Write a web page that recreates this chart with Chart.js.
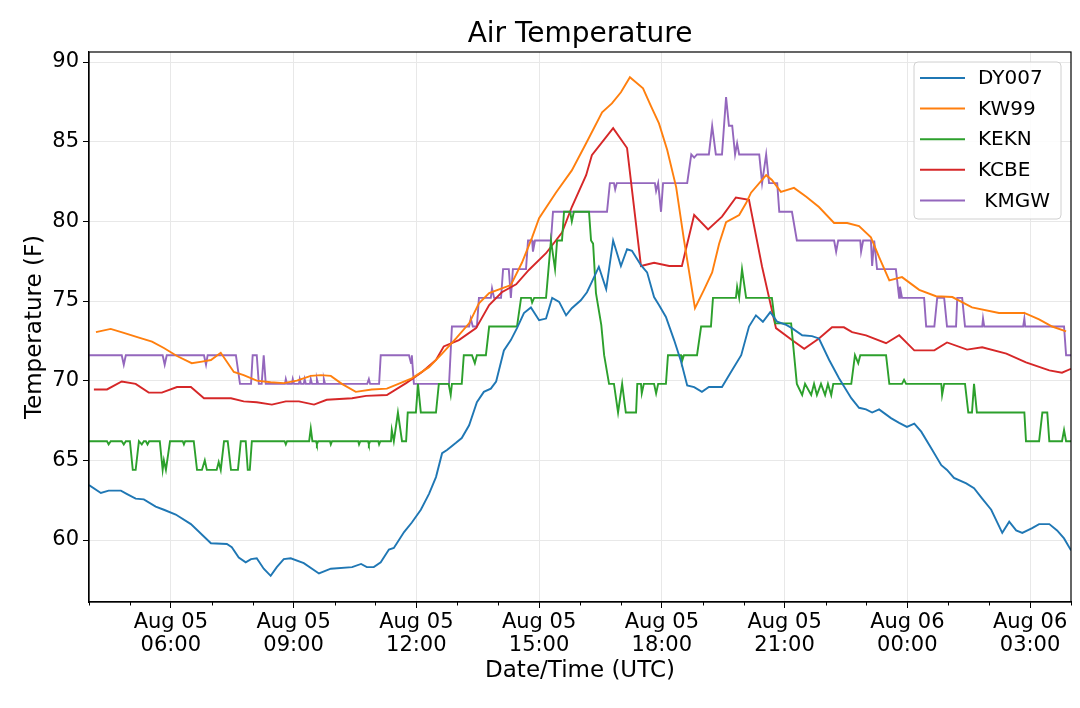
<!DOCTYPE html>
<html>
<head>
<meta charset="utf-8">
<script src="https://cdn.jsdelivr.net/npm/chart.js@4.4.1/dist/chart.umd.min.js"></script>
<style>
  html, body { margin: 0; padding: 0; background: #ffffff; }
  #wrap { width: 1080px; height: 708px; position: relative; }
</style>
</head>
<body>
<div id="wrap"><canvas id="c" width="1080" height="708"></canvas></div>
<script>
// ---- DATA (hours since Aug 05 00:00 UTC, temperature in F) ----
const chartTitle = 'Air Temperature';
const xTitle = 'Date/Time (UTC)';
const yTitle = 'Temperature (F)';
const seriesNames = ['DY007', 'KW99', 'KEKN', 'KCBE', ' KMGW'];
const seriesColors = ['#1f77b4', '#ff7f0e', '#2ca02c', '#d62728', '#9467bd'];
const xMin = 4.0, xMax = 28.0;
const yMin = 56.11, yMax = 90.63;
const majorHours = [6, 9, 12, 15, 18, 21, 24, 27];
const yTickValues = [60, 65, 70, 75, 80, 85, 90];

const DY007 = [[4.0,63.45],[4.29,62.95],[4.48,63.1],[4.78,63.1],[4.92,62.9],[5.14,62.6],[5.34,62.55],[5.63,62.1],[5.83,61.9],[6.12,61.6],[6.49,61.0],[6.98,59.8],[7.37,59.75],[7.49,59.55],[7.66,58.9],[7.83,58.6],[7.96,58.8],[8.10,58.85],[8.27,58.2],[8.44,57.75],[8.59,58.3],[8.76,58.8],[8.93,58.85],[9.25,58.55],[9.62,57.9],[9.91,58.2],[10.43,58.3],[10.65,58.5],[10.79,58.3],[10.96,58.3],[11.13,58.6],[11.33,59.4],[11.45,59.5],[11.70,60.5],[11.89,61.1],[12.11,61.9],[12.31,62.9],[12.48,63.95],[12.63,65.45],[12.75,65.65],[12.97,66.1],[13.11,66.4],[13.29,67.2],[13.48,68.65],[13.65,69.3],[13.82,69.5],[13.95,69.95],[14.14,71.9],[14.31,72.55],[14.46,73.3],[14.63,74.25],[14.80,74.6],[15.00,73.8],[15.17,73.9],[15.32,75.2],[15.49,74.95],[15.66,74.1],[15.80,74.55],[16.02,75.05],[16.17,75.55],[16.29,76.2],[16.46,77.15],[16.64,75.75],[16.81,78.8],[17.00,77.2],[17.15,78.25],[17.27,78.15],[17.49,77.25],[17.64,76.8],[17.81,75.25],[17.93,74.75],[18.10,74.0],[18.30,72.55],[18.47,71.2],[18.62,69.7],[18.79,69.6],[18.98,69.3],[19.15,69.6],[19.47,69.6],[19.69,70.55],[19.94,71.6],[20.13,73.4],[20.30,74.1],[20.47,73.7],[20.65,74.3],[20.82,73.7],[21.04,73.5],[21.18,73.3],[21.43,72.85],[21.67,72.8],[21.84,72.65],[22.09,71.3],[22.33,70.15],[22.63,68.9],[22.82,68.3],[22.99,68.2],[23.14,68.0],[23.31,68.2],[23.60,67.65],[23.80,67.35],[23.99,67.1],[24.17,67.3],[24.34,66.8],[24.61,65.65],[24.83,64.7],[24.97,64.4],[25.14,63.9],[25.44,63.55],[25.63,63.25],[25.83,62.6],[26.05,61.9],[26.32,60.45],[26.49,61.15],[26.66,60.6],[26.81,60.45],[27.05,60.75],[27.22,61.0],[27.47,61.0],[27.66,60.6],[27.83,60.1],[28.0,59.35]];

const KW99 = [[4.17,73.05],[4.53,73.25],[4.85,73.0],[5.22,72.7],[5.54,72.45],[5.83,72.05],[6.15,71.55],[6.51,71.1],[6.76,71.2],[6.98,71.3],[7.22,71.75],[7.54,70.55],[7.78,70.35],[8.10,70.0],[8.44,69.9],[8.76,69.85],[9.08,70.0],[9.42,70.3],[9.67,70.35],[9.91,70.3],[10.18,69.8],[10.52,69.3],[10.91,69.45],[11.28,69.5],[11.89,70.15],[12.31,70.85],[12.63,71.7],[12.97,72.65],[13.29,73.6],[13.53,74.85],[13.78,75.5],[14.09,75.8],[14.31,76.0],[14.58,77.4],[14.83,79.0],[15.00,80.2],[15.41,81.8],[15.80,83.2],[16.15,84.9],[16.54,86.85],[16.78,87.4],[17.00,88.1],[17.22,89.05],[17.54,88.35],[17.74,87.2],[17.93,86.15],[18.13,84.5],[18.35,82.15],[18.54,78.85],[18.81,74.55],[19.03,75.7],[19.23,76.8],[19.40,78.6],[19.57,79.95],[19.89,80.4],[20.06,81.15],[20.18,81.8],[20.55,82.9],[20.69,82.6],[20.91,81.85],[21.23,82.1],[21.53,81.55],[21.84,80.9],[22.21,79.9],[22.53,79.9],[22.82,79.7],[23.11,79.0],[23.31,77.75],[23.56,76.3],[23.87,76.5],[24.29,75.7],[24.70,75.3],[25.10,75.25],[25.58,74.6],[26.24,74.25],[26.86,74.25],[27.22,73.85],[27.54,73.4],[27.88,73.1]];

const KEKN = [[4.0,66.2],[4.44,66.2],[4.48,66.0],[4.53,66.2],[4.80,66.2],[4.85,66.0],[4.90,66.2],[5.0,66.2],[5.07,64.4],[5.14,64.4],[5.22,66.2],[5.29,66.0],[5.34,66.2],[5.39,66.2],[5.43,66.0],[5.47,66.2],[5.73,66.2],[5.80,64.4],[5.83,65.0],[5.88,64.4],[5.98,66.2],[6.29,66.2],[6.32,66.0],[6.35,66.2],[6.56,66.2],[6.64,64.4],[6.76,64.4],[6.83,65.0],[6.88,64.4],[7.12,64.4],[7.17,64.9],[7.22,64.4],[7.30,66.2],[7.39,66.2],[7.47,64.4],[7.64,64.4],[7.71,66.2],[7.83,66.2],[7.88,64.4],[7.93,64.4],[7.98,66.2],[8.78,66.2],[8.81,66.0],[8.84,66.2],[9.38,66.2],[9.42,67.0],[9.46,66.2],[9.55,66.2],[9.57,66.0],[9.60,66.2],[9.89,66.2],[9.91,66.0],[9.94,66.2],[10.58,66.2],[10.60,66.0],[10.63,66.2],[10.82,66.2],[10.84,66.0],[10.87,66.2],[11.07,66.2],[11.09,66.0],[11.12,66.2],[11.38,66.2],[11.40,66.9],[11.45,66.2],[11.55,68.0],[11.65,66.2],[11.75,66.2],[11.79,68.0],[11.99,68.0],[12.04,69.8],[12.11,68.0],[12.48,68.0],[12.55,69.8],[12.79,69.8],[12.84,69.1],[12.87,69.8],[13.11,69.8],[13.16,71.6],[13.36,71.6],[13.43,71.1],[13.48,71.6],[13.70,71.6],[13.78,73.4],[14.46,73.4],[14.56,75.2],[14.80,75.2],[14.83,74.9],[14.88,75.2],[15.17,75.2],[15.29,78.8],[15.39,77.0],[15.44,78.8],[15.56,78.8],[15.61,80.6],[15.76,80.6],[15.80,80.0],[15.85,80.6],[16.22,80.6],[16.27,78.8],[16.32,78.6],[16.39,75.5],[16.52,73.5],[16.59,71.6],[16.71,69.8],[16.83,69.8],[16.93,68.0],[17.03,69.8],[17.12,68.0],[17.37,68.0],[17.40,69.8],[17.49,69.8],[17.51,69.2],[17.56,69.8],[17.81,69.8],[17.86,69.2],[17.91,69.8],[18.10,69.8],[18.15,71.6],[18.47,71.6],[18.49,71.2],[18.54,71.6],[18.86,71.6],[18.96,73.4],[19.20,73.4],[19.25,75.2],[19.81,75.2],[19.84,75.9],[19.89,75.2],[19.96,77.0],[20.06,75.2],[20.69,75.2],[20.77,73.6],[21.16,73.6],[21.30,69.8],[21.43,69.1],[21.50,69.8],[21.65,69.1],[21.72,69.8],[21.79,69.1],[21.89,69.8],[21.99,69.1],[22.06,69.8],[22.14,69.1],[22.19,69.8],[22.63,69.8],[22.72,71.6],[22.80,71.1],[22.85,71.6],[23.48,71.6],[23.56,69.8],[23.87,69.8],[23.92,70.05],[23.97,69.8],[24.83,69.8],[24.85,69.1],[24.90,69.8],[25.41,69.8],[25.49,68.0],[25.58,68.0],[25.63,69.8],[25.70,68.0],[26.86,68.0],[26.90,66.2],[27.22,66.2],[27.30,68.0],[27.42,68.0],[27.47,66.2],[27.78,66.2],[27.83,66.9],[27.88,66.2],[28.0,66.2]];

const KCBE = [[4.12,69.45],[4.44,69.45],[4.80,69.95],[5.14,69.8],[5.46,69.25],[5.78,69.25],[6.15,69.6],[6.49,69.6],[6.81,68.9],[7.47,68.9],[7.78,68.7],[8.10,68.65],[8.47,68.5],[8.81,68.7],[9.13,68.7],[9.50,68.5],[9.81,68.8],[10.43,68.9],[10.77,69.05],[11.28,69.1],[11.75,69.85],[12.14,70.55],[12.48,71.3],[12.67,72.15],[13.04,72.55],[13.46,73.3],[13.78,74.75],[14.09,75.55],[14.44,76.05],[14.75,76.95],[15.17,78.0],[15.56,79.3],[15.80,80.9],[16.15,82.9],[16.29,84.15],[16.81,85.85],[17.15,84.6],[17.49,77.2],[17.81,77.4],[18.18,77.2],[18.49,77.2],[18.79,80.4],[19.13,79.5],[19.47,80.3],[19.81,81.5],[20.13,81.35],[20.45,77.15],[20.79,73.3],[21.18,72.55],[21.48,72.0],[21.84,72.65],[22.16,73.35],[22.45,73.35],[22.65,73.05],[22.99,72.85],[23.48,72.35],[23.80,72.85],[24.17,71.9],[24.66,71.9],[24.97,72.4],[25.46,71.95],[25.83,72.1],[26.42,71.7],[26.90,71.15],[27.47,70.65],[27.78,70.5],[28.0,70.75]];

const KMGW = [[4.0,71.6],[4.80,71.6],[4.85,71.0],[4.90,71.6],[5.80,71.6],[5.85,71.0],[5.90,71.6],[6.81,71.6],[6.86,71.0],[6.90,71.6],[7.59,71.6],[7.69,69.8],[7.96,69.8],[8.0,71.6],[8.10,71.6],[8.15,69.8],[8.22,69.8],[8.27,71.6],[8.32,69.8],[8.79,69.8],[8.81,70.1],[8.84,69.8],[8.96,69.8],[8.98,70.1],[9.01,69.8],[9.13,69.8],[9.15,70.1],[9.18,69.8],[9.25,69.8],[9.27,70.1],[9.30,69.8],[9.40,69.8],[9.42,70.1],[9.45,69.8],[9.55,69.8],[9.57,70.1],[9.60,69.8],[9.72,69.8],[9.74,70.1],[9.77,69.8],[10.80,69.8],[10.84,70.1],[10.87,69.8],[11.09,69.8],[11.13,71.6],[11.82,71.6],[11.87,71.1],[11.89,71.6],[11.94,69.8],[12.80,69.8],[12.87,73.4],[13.29,73.4],[13.33,73.9],[13.38,73.4],[13.48,73.4],[13.53,75.2],[13.82,75.2],[13.85,75.8],[13.90,75.2],[14.07,75.2],[14.12,77.0],[14.26,77.0],[14.31,75.2],[14.36,77.0],[14.68,77.0],[14.73,78.8],[14.83,78.8],[14.85,78.1],[14.90,78.8],[15.29,78.8],[15.34,80.6],[16.66,80.6],[16.73,82.4],[16.83,82.4],[16.86,82.0],[16.90,82.4],[17.83,82.4],[17.86,81.9],[17.91,82.4],[17.98,80.6],[18.03,82.4],[18.62,82.4],[18.72,84.2],[18.79,84.0],[18.86,84.2],[19.15,84.2],[19.23,86.0],[19.32,84.2],[19.47,84.2],[19.57,87.8],[19.64,86.0],[19.72,86.0],[19.79,84.2],[19.84,84.9],[19.89,84.2],[20.38,84.2],[20.45,82.4],[20.55,84.2],[20.62,82.4],[20.82,82.4],[20.87,80.6],[21.18,80.6],[21.30,78.8],[22.21,78.8],[22.26,78.1],[22.31,78.8],[22.85,78.8],[22.87,78.1],[22.92,78.8],[23.11,78.8],[23.14,77.2],[23.19,78.8],[23.26,77.0],[23.72,77.0],[23.80,75.2],[23.82,75.9],[23.87,75.2],[24.41,75.2],[24.46,73.4],[24.66,73.4],[24.73,75.2],[24.90,75.2],[24.97,73.4],[25.19,73.4],[25.22,75.2],[25.34,75.2],[25.41,73.4],[25.83,73.4],[25.85,73.9],[25.88,73.4],[26.83,73.4],[26.86,73.9],[26.88,73.4],[27.83,73.4],[27.88,71.6],[28.0,71.6]];

const seriesData = [DY007, KW99, KEKN, KCBE, KMGW];

// ---- helpers ----
function hourLabel(h) {
  const day = h >= 24 ? 'Aug 06' : 'Aug 05';
  const hh = ((h % 24) + '').padStart(2, '0');
  return [day, hh + ':00'];
}

const FONT = 'DejaVu Sans';

// title centred over the plot area
const titlePlugin = {
  id: 'plotTitle',
  afterDraw(chart) {
    const {ctx, chartArea: a} = chart;
    ctx.save();
    ctx.font = '28px "' + FONT + '"';
    ctx.fillStyle = '#000';
    ctx.textAlign = 'center';
    ctx.textBaseline = 'middle';
    ctx.fillText(chartTitle, (a.left + a.right) / 2, a.top - 17);
    ctx.restore();
  }
};

// frame (top/right spines) + minor ticks
const framePlugin = {
  id: 'frame',
  afterDatasetsDraw(chart) {
    const {ctx, chartArea: a, scales} = chart;
    ctx.save();
    ctx.strokeStyle = '#000';
    ctx.lineWidth = 1.2;
    ctx.strokeRect(a.left, a.top, a.right - a.left, a.bottom - a.top);
    const xs = scales.x;
    ctx.lineWidth = 1;
    for (let h = Math.ceil(xMin); h <= xMax; h++) {
      if (majorHours.includes(h)) continue;
      const px = Math.round(xs.getPixelForValue(h)) + 0.5;
      ctx.beginPath();
      ctx.moveTo(px, a.bottom);
      ctx.lineTo(px, a.bottom + 3.5);
      ctx.stroke();
    }
    ctx.restore();
  }
};

// legend inside the plot, upper right
const legendPlugin = {
  id: 'innerLegend',
  afterDraw(chart) {
    const {ctx, chartArea: a} = chart;
    const ds = chart.data.datasets;
    const boxW = 147, rowH = 30.6, boxH = 157;
    const bx = a.right - 10 - boxW, by = a.top + 10;
    ctx.save();
    ctx.fillStyle = 'rgba(255,255,255,0.85)';
    ctx.strokeStyle = '#d0d0d0';
    ctx.lineWidth = 1;
    const r = 4;
    ctx.beginPath();
    ctx.moveTo(bx + r, by);
    ctx.lineTo(bx + boxW - r, by);
    ctx.quadraticCurveTo(bx + boxW, by, bx + boxW, by + r);
    ctx.lineTo(bx + boxW, by + boxH - r);
    ctx.quadraticCurveTo(bx + boxW, by + boxH, bx + boxW - r, by + boxH);
    ctx.lineTo(bx + r, by + boxH);
    ctx.quadraticCurveTo(bx, by + boxH, bx, by + boxH - r);
    ctx.lineTo(bx, by + r);
    ctx.quadraticCurveTo(bx, by, bx + r, by);
    ctx.closePath();
    ctx.fill();
    ctx.stroke();
    ctx.font = '20px "' + FONT + '"';
    ctx.textBaseline = 'middle';
    ctx.textAlign = 'left';
    ds.forEach((d, i) => {
      const y = by + 16 + i * rowH;
      ctx.strokeStyle = d.borderColor;
      ctx.lineWidth = 2;
      ctx.beginPath();
      ctx.moveTo(bx + 6, y);
      ctx.lineTo(bx + 51, y);
      ctx.stroke();
      ctx.fillStyle = '#000';
      ctx.fillText(d.label, bx + 64, y + 1);
    });
    ctx.restore();
  }
};

const datasets = seriesData.map((pts, i) => ({
  label: seriesNames[i],
  data: pts.map(p => ({x: p[0], y: p[1]})),
  borderColor: seriesColors[i],
  backgroundColor: seriesColors[i],
  borderWidth: 1.9,
  pointRadius: 0,
  tension: 0,
  fill: false
}));

new Chart(document.getElementById('c'), {
  type: 'line',
  data: {datasets},
  plugins: [framePlugin, legendPlugin, titlePlugin],
  options: {
    responsive: false,
    animation: false,
    events: [],
    layout: {padding: {left: 0, right: 9, top: 52, bottom: 0}},
    plugins: {
      legend: {display: false},
      tooltip: {enabled: false},
      title: {display: false}
    },
    scales: {
      x: {
        type: 'linear',
        min: xMin,
        max: xMax,
        afterBuildTicks(s) { s.ticks = majorHours.map(v => ({value: v})); },
        afterFit(s) { s.height = 106; },
        ticks: {
          autoSkip: false,
          maxRotation: 0,
          color: '#000',
          padding: 3,
          font: {family: FONT, size: 21, lineHeight: 1.1},
          callback: (v) => hourLabel(v)
        },
        grid: {color: '#e8e8e8', lineWidth: 1, tickColor: '#000', tickLength: 6, drawTicks: true},
        border: {display: true, color: '#000', width: 1.2},
        title: {
          display: true,
          text: xTitle,
          color: '#000',
          font: {family: FONT, size: 23},
          padding: {top: 0, bottom: 23}
        }
      },
      y: {
        type: 'linear',
        min: yMin,
        max: yMax,
        afterBuildTicks(s) { s.ticks = yTickValues.map(v => ({value: v})); },
        afterFit(s) { s.width = 89; },
        ticks: {
          color: '#000',
          padding: 4,
          font: {family: FONT, size: 21},
          callback: (v) => String(v)
        },
        grid: {color: '#e8e8e8', lineWidth: 1, tickColor: '#000', tickLength: 6, drawTicks: true},
        border: {display: true, color: '#000', width: 1.2},
        title: {
          display: true,
          text: yTitle,
          color: '#000',
          font: {family: FONT, size: 23},
          padding: {top: 21, bottom: 0}
        }
      }
    }
  }
});
</script>
</body>
</html>
